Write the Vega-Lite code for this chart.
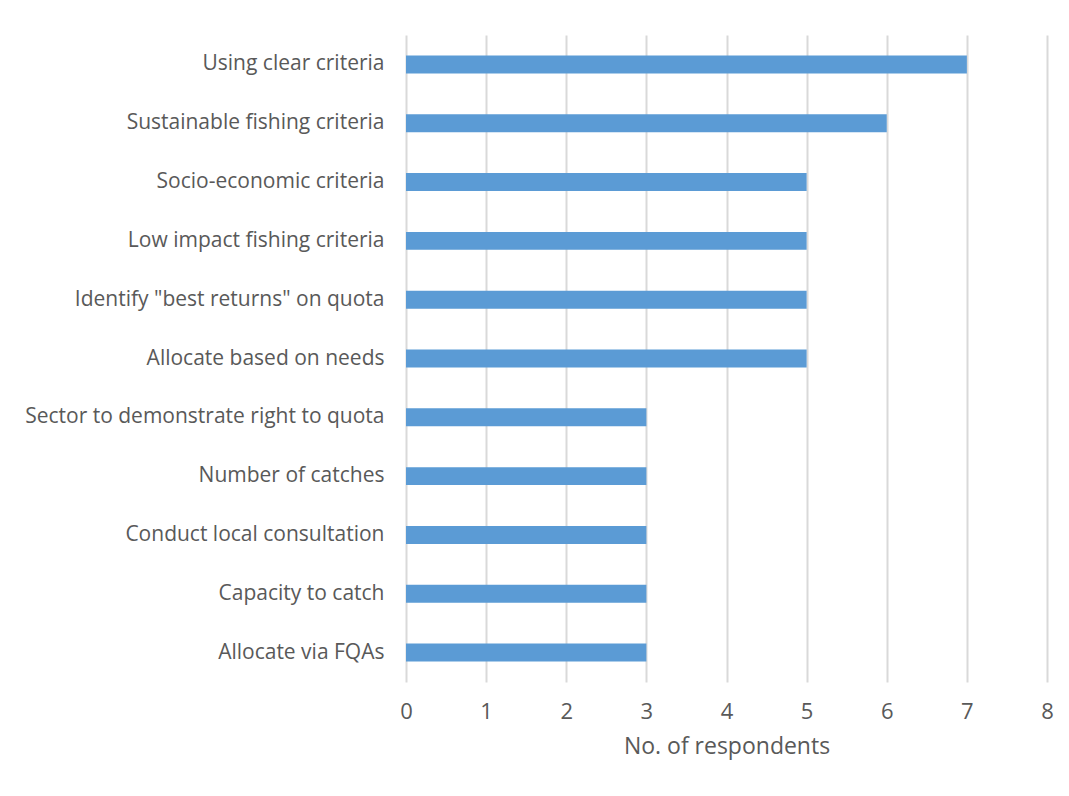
{
  "$schema": "https://vega.github.io/schema/vega-lite/v6.json",
  "autosize": {"type": "none"},
  "width": 641,
  "height": 647,
  "padding": {"left": 406, "top": 35, "right": 22, "bottom": 114},
  "background": "white",
  "data": {
    "values": [
      {"item": "Using clear criteria", "n": 7},
      {"item": "Sustainable fishing criteria", "n": 6},
      {"item": "Socio-economic criteria", "n": 5},
      {"item": "Low impact fishing criteria", "n": 5},
      {"item": "Identify \"best returns\" on quota", "n": 5},
      {"item": "Allocate based on needs", "n": 5},
      {"item": "Sector to demonstrate right to quota", "n": 3},
      {"item": "Number of catches", "n": 3},
      {"item": "Conduct local consultation", "n": 3},
      {"item": "Capacity to catch", "n": 3},
      {"item": "Allocate via FQAs", "n": 3}
    ]
  },
  "mark": {"type": "bar", "color": "#5b9bd5"},
  "encoding": {
    "y": {
      "field": "item",
      "type": "nominal",
      "sort": null,
      "scale": {"paddingInner": 0.695, "paddingOuter": 0.3475},
      "axis": {
        "title": null,
        "domain": false,
        "ticks": false,
        "labelPadding": 22,
        "labelFont": "Open Sans",
        "labelFontSize": 21,
        "labelColor": "#595959",
        "labelLimit": 500
      }
    },
    "x": {
      "field": "n",
      "type": "quantitative",
      "scale": {"domain": [0, 8], "nice": false},
      "axis": {
        "title": "No. of respondents",
        "values": [0, 1, 2, 3, 4, 5, 6, 7, 8],
        "format": "d",
        "domain": false,
        "ticks": false,
        "grid": true,
        "gridColor": "#d9d9d9",
        "gridWidth": 2,
        "labelFlush": false,
        "labelPadding": 19,
        "labelFont": "Open Sans",
        "labelFontSize": 22,
        "labelColor": "#595959",
        "titleFont": "Open Sans",
        "titleFontSize": 23,
        "titleFontWeight": "normal",
        "titleColor": "#595959",
        "titlePadding": 13
      }
    }
  },
  "config": {"view": {"stroke": null}}
}
